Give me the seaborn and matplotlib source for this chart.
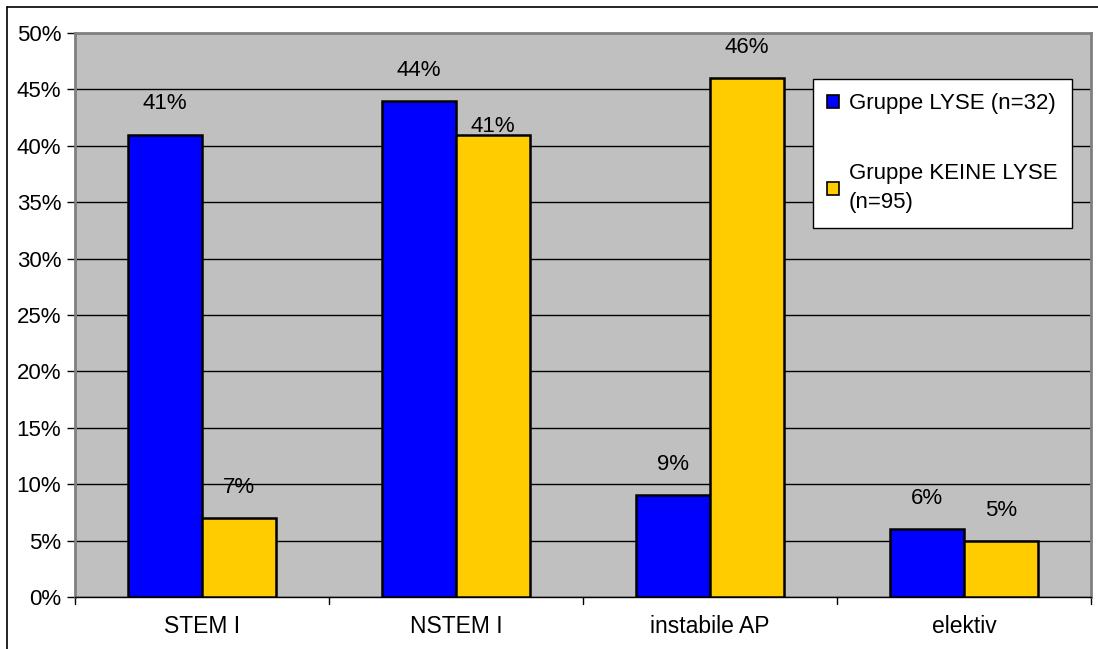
import matplotlib
matplotlib.use("Agg")
import matplotlib.pyplot as plt
from matplotlib.patches import Patch
from matplotlib.lines import Line2D
import seaborn as sns
import pandas as pd

categories = ["STEM I", "NSTEM I", "instabile AP", "elektiv"]
lyse = [41, 44, 9, 6]
keine_lyse = [7, 41, 46, 5]
groups = ["Gruppe LYSE (n=32)", "Gruppe KEINE LYSE\n(n=95)"]
yticks = [0, 5, 10, 15, 20, 25, 30, 35, 40, 45, 50]

df = pd.DataFrame({
    "Kategorie": categories * 2,
    "Gruppe": [groups[0]] * 4 + [groups[1]] * 4,
    "Anteil": lyse + keine_lyse,
})

sns.set_theme(style="white")
plt.rcParams["font.family"] = ["Liberation Sans", "DejaVu Sans"]
plt.rcParams["text.color"] = "black"

colors = ["#0000FF", "#FFCC00"]
fig = plt.figure(figsize=(10.98, 6.49), dpi=100)
ax = fig.add_axes([75 / 1098, 1 - 597 / 649, (1091 - 75) / 1098, (597 - 33) / 649])
ax.set_facecolor("#C0C0C0")

sns.barplot(data=df, x="Kategorie", y="Anteil", hue="Gruppe", palette=colors,
            width=0.58, edgecolor="black", linewidth=1.8, saturation=1,
            ax=ax, legend=False, zorder=3)

ax.set_xlim(-0.5, 3.5)
ax.set_ylim(0, 50)
ax.set_yticks(yticks)
ax.set_yticklabels([f"{t}%" for t in yticks])
ax.yaxis.grid(True, color="black", linewidth=1.0, zorder=0)
ax.set_axisbelow(True)
ax.set_xlabel("")
ax.set_ylabel("")

# category ticks on group boundaries
ax.set_xticks([0, 1, 2, 3])
ax.set_xticklabels(categories)
ax.tick_params(axis="x", length=0, pad=13, labelsize=16.5, colors="black")
for b in [-0.5, 0.5, 1.5, 2.5, 3.5]:
    ax.plot([b, b], [0, -0.012], transform=ax.get_xaxis_transform(),
            color="black", linewidth=1, clip_on=False)
ax.tick_params(axis="y", direction="out", length=6, width=1, left=True,
               labelsize=16, colors="black", pad=4)

for side in ["left", "top", "right"]:
    ax.spines[side].set_color("#808080")
    ax.spines[side].set_linewidth(2)
ax.spines["bottom"].set_color("black")
ax.spines["bottom"].set_linewidth(1)

# value labels above bars
offsets = {(1, 1): 6}
for gi, vals in enumerate([lyse, keine_lyse]):
    cont = ax.containers[gi]
    for ci, (bar, v) in enumerate(zip(cont, vals)):
        off = offsets.get((ci, gi), 22)
        ax.annotate(f"{v}%", (bar.get_x() + bar.get_width() / 2, v),
                    xytext=(0, off), textcoords="offset points",
                    ha="center", va="center", fontsize=16, color="black")

handles = [Patch(facecolor=c, edgecolor="black", linewidth=1.2) for c in colors]
leg = ax.legend(handles, groups, loc="upper left",
                bbox_to_anchor=((813 - 75) / 1016, 1 - (79 - 33) / 564),
                frameon=True, fancybox=False, fontsize=16,
                handlelength=0.5, handleheight=0.5, handletextpad=0.45,
                labelspacing=2.2, borderpad=0.65, borderaxespad=0,
                labelcolor="black")
for t in leg.get_texts():
    t.set_linespacing(1.5)
leg.get_frame().set_edgecolor("black")
leg.get_frame().set_linewidth(1)
leg.get_frame().set_facecolor("white")
leg.get_frame().set_alpha(1)
leg.set_zorder(5)

# outer chart frame
fig.add_artist(Line2D([7 / 1098, 7 / 1098], [0, 1 - 7 / 649], color="black", linewidth=1.2))
fig.add_artist(Line2D([7 / 1098, 1], [1 - 7 / 649, 1 - 7 / 649], color="black", linewidth=1.2))

fig.savefig("out.png", dpi=100, facecolor="white")
